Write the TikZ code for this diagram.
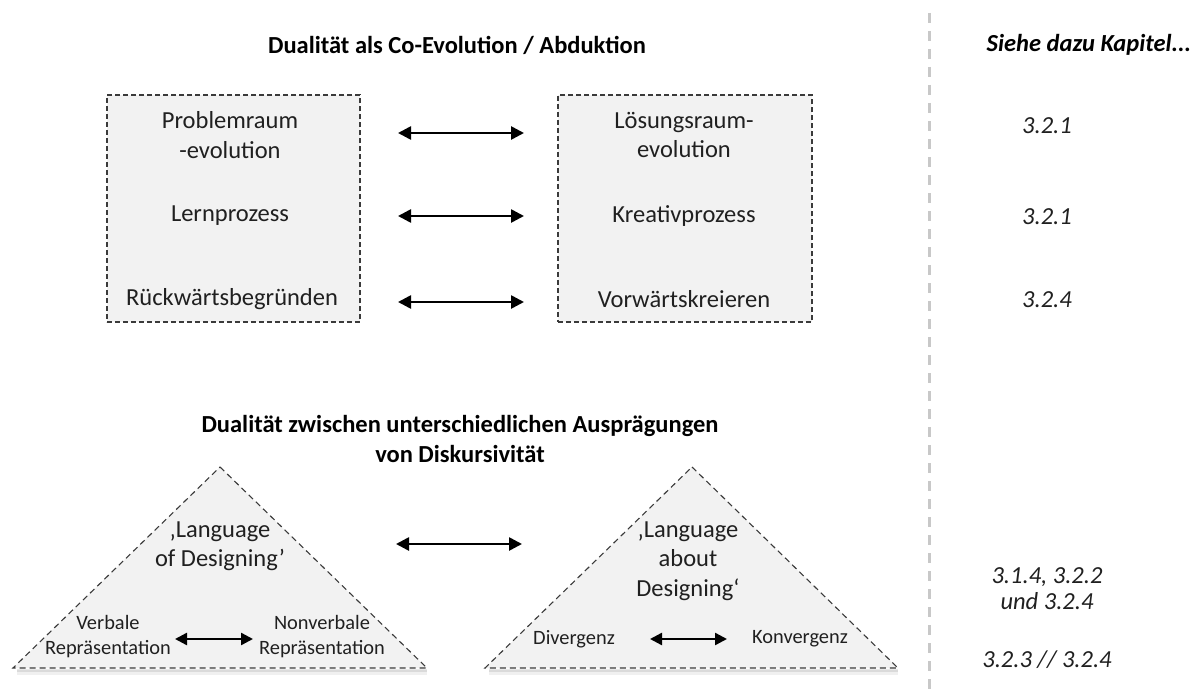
\documentclass[tikz,border=0pt]{standalone}
\usepackage{fontspec}
\setmainfont{Carlito}
\usetikzlibrary{arrows.meta}
\definecolor{panelfill}{HTML}{F2F2F2}
\definecolor{panelline}{HTML}{3A3A3A}
\definecolor{ink}{HTML}{202020}
\definecolor{divider}{HTML}{C8C8C8}
\begin{document}
\begin{tikzpicture}[x=1pt,y=-1pt,
  every node/.style={inner sep=0pt, text=ink},
  txt/.style={font=\fontsize{24.5}{29.5}\selectfont, align=center},
  small/.style={font=\fontsize{20.4}{25}\selectfont, align=center},
  heading/.style={font=\fontsize{24.5}{30}\selectfont\bfseries, align=center, text=black},
  ref/.style={font=\fontsize{24.5}{26}\selectfont\itshape, align=center},
  panel/.style={draw=panelline, fill=panelfill, line width=1.1pt, dash pattern=on 5pt off 3pt},
  dbl/.style={{Triangle[length=13pt,width=13pt]}-{Triangle[length=13pt,width=13pt]}, line width=2.6pt, black},
  dbls/.style={{Triangle[length=12pt,width=12pt]}-{Triangle[length=12pt,width=12pt]}, line width=2.4pt, black}]
\useasboundingbox (0,0) rectangle (1203,693);

% divider between diagram and chapter references
\coordinate (divtop) at (929,13);
\coordinate (divbot) at (929,693);
\draw[divider, line width=3pt, dash pattern=on 10pt off 8pt] (divtop) -- (divbot);

% ---------- upper part: co-evolution / abduction ----------
\node[heading] (title1) at (457,45) {Dualität als Co-Evolution / Abduktion};

\node[panel, minimum width=253pt, minimum height=227pt] (lbox) at (233.5,208.5) {};
\node[panel, minimum width=254pt, minimum height=227pt] (rbox) at (685,208.5) {};

\node[txt] (prob) at (230,135) {Problemraum\\-evolution};
\node[txt] (lern) at (230,216) {Lernprozess};
\node[txt] (rueck) at (232,299) {Rückwärtsbegründen};

\node[txt] (loes) at (684,135) {Lösungsraum-\\evolution};
\node[txt] (krea) at (684,216) {Kreativprozess};
\node[txt] (vorw) at (684,299) {Vorwärtskreieren};

\coordinate (a1l) at (398,133);  \coordinate (a1r) at (524,133);
\coordinate (a2l) at (398,216);  \coordinate (a2r) at (524,216);
\coordinate (a3l) at (398,302);  \coordinate (a3r) at (524,302);
\draw[dbl] (a1l) -- (a1r);
\draw[dbl] (a2l) -- (a2r);
\draw[dbl] (a3l) -- (a3r);

% ---------- lower part: forms of discursivity ----------
\node[heading] (title2) at (460,439) {Dualität zwischen unterschiedlichen Ausprägungen\\von Diskursivität};

% soft shadow under the triangle bases
\foreach \xa/\xb in {15/425, 487/896}{
  \draw[black, opacity=0.06, line width=5pt] (\xa+2,672) -- (\xb+2,672);
  \draw[black, opacity=0.09, line width=2.5pt] (\xa+2,670.5) -- (\xb+2,670.5);
}

\coordinate (t1top) at (220,467);
\coordinate (t1l) at (13,668);
\coordinate (t1r) at (427,668);
\draw[panel, dash pattern=on 6pt off 4pt] (t1top) -- (t1r) -- (t1l) -- cycle;

\coordinate (t2top) at (692,467);
\coordinate (t2l) at (485,668);
\coordinate (t2r) at (898,668);
\draw[panel, dash pattern=on 6pt off 4pt] (t2top) -- (t2r) -- (t2l) -- cycle;

\node[txt] (lod) at (220,546) {‚Language\\of Designing’};
\node[small] (verb) at (108,636.5) {Verbale\\Repräsentation};
\node[small] (nonv) at (322,636.5) {Nonverbale\\Repräsentation};
\coordinate (b1l) at (175,639); \coordinate (b1r) at (253,639);
\draw[dbls] (b1l) -- (b1r);

\node[txt] (lad) at (688,561) {‚Language\\about\\Designing‘};
\node[small] (div) at (574,639) {Divergenz};
\node[small] (konv) at (800,639) {Konvergenz};
\coordinate (b2l) at (650,639); \coordinate (b2r) at (727,639);
\draw[dbls] (b2l) -- (b2r);

\coordinate (mid1) at (396,544); \coordinate (mid2) at (522,544);
\draw[dbl] (mid1) -- (mid2);

% ---------- chapter references ----------
\node[font=\fontsize{24.5}{30}\selectfont\bfseries\itshape, text=black] (siehe) at (1089,45) {Siehe dazu Kapitel...};
\node[ref] (r1) at (1047,126) {3.2.1};
\node[ref] (r2) at (1047,217) {3.2.1};
\node[ref] (r3) at (1047,300) {3.2.4};
\node[ref] (r4) at (1047,589) {3.1.4, 3.2.2\\und 3.2.4};
\node[ref] (r5) at (1047,660) {3.2.3 // 3.2.4};
\end{tikzpicture}
\end{document}
